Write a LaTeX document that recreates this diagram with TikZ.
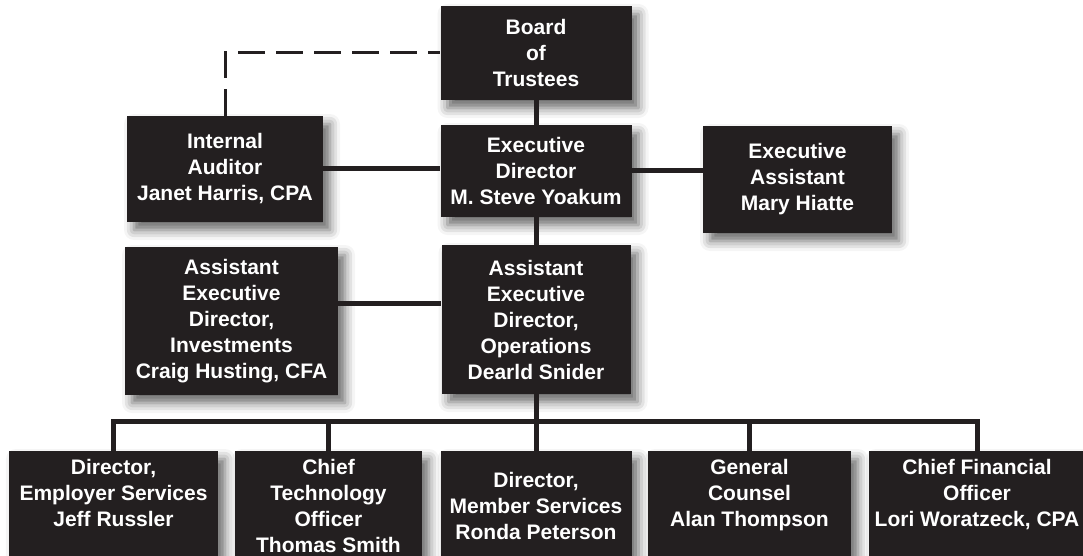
\documentclass[tikz,border=0pt]{standalone}
\usepackage{fontspec}
\setmainfont{Liberation Sans}
\usepackage{tikz}
\usetikzlibrary{shadows.blur}
\definecolor{boxblack}{HTML}{231F20}

\tikzset{
  box/.style={fill=boxblack,text=white,align=center,inner sep=0pt,
    font=\fontsize{10.5}{13}\selectfont\bfseries,
    blur shadow={shadow xshift=3.5pt,shadow yshift=-4pt,shadow blur radius=5pt,shadow opacity=60}},
  link/.style={draw=boxblack,line width=2.5pt},
  dotted link/.style={draw=boxblack,line width=1.5pt,dash pattern=on 13.5pt off 5.5pt}
}

\begin{document}
\begin{tikzpicture}[x=0.5pt,y=-0.5pt]
        \useasboundingbox (0,0) rectangle (1083,556);
        % top of the chart
        \node[box,minimum width=95.5pt,minimum height=47pt] (board) at (536,53) {Board\\of\\Trustees};
        \node[box,minimum width=95.5pt,minimum height=46pt] (exec) at (536,171) {Executive\\Director\\M. Steve Yoakum};
        \node[box,minimum width=98pt,minimum height=53pt] (auditor) at (225,169) {Internal\\Auditor\\Janet Harris, CPA};
        \node[box,minimum width=94.5pt,minimum height=53.5pt] (assistant) at (797.5,179.5) {Executive\\Assistant\\Mary Hiatte};
        \node[box,minimum width=106.5pt,minimum height=74pt] (invest) at (231.5,321) {Assistant\\Executive\\Director,\\Investments\\Craig Husting, CFA};
        \node[box,minimum width=94.5pt,minimum height=74.5pt] (ops) at (536,319.5) {Assistant\\Executive\\Director,\\Operations\\Dearld Snider};
        % bottom row
        \node[box,minimum width=104.5pt,minimum height=54.5pt] (emp) at (113.5,505.5) {Director,\\Employer Services\\Jeff Russler\\~};
        \node[box,minimum width=93.5pt,minimum height=54.5pt] (tech) at (328.5,505.5) {Chief\\Technology\\Officer\\Thomas Smith};
        \node[box,minimum width=95.5pt,minimum height=54.5pt] (member) at (536,505.5) {Director,\\Member Services\\Ronda Peterson};
        \node[box,minimum width=101.5pt,minimum height=54.5pt] (counsel) at (749.5,505.5) {General\\Counsel\\Alan Thompson\\~};
        \node[box,minimum width=108pt,minimum height=54.5pt] (cfo) at (977,505.5) {Chief Financial\\Officer\\Lori Woratzeck, CPA\\~};

        \coordinate (invlink) at ([yshift=9pt]invest.east);
        \coordinate (bus) at (0,421);

        \draw[dotted link] (auditor.north) |- (board.west);
        \draw[link] (board.south)--(exec.north);
        \draw[link] (auditor.east)--(auditor.east -| exec.west);
        \draw[link] (exec.east)--(exec.east -| assistant.west);
        \draw[link] (exec.south)--(ops.north);
        \draw[link] (invlink)--(invlink -| ops.west);
        \draw[link] (ops.south)--(member.north);
        \draw[link] (emp.north) |- (cfo.north |- bus)--(cfo.north);
        \draw[link] (tech.north |- bus)--(tech.north);
        \draw[link] (counsel.north |- bus)--(counsel.north);
    \end{tikzpicture}
\end{document}
